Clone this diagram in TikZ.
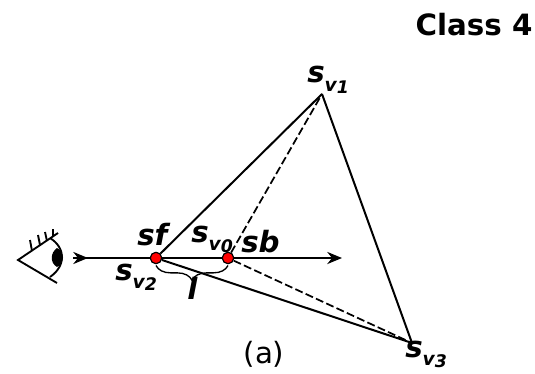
\documentclass[tikz,border=0pt]{standalone}
\usepackage{fontspec}
\setmainfont{DejaVu Sans}
\usetikzlibrary{arrows.meta,decorations.pathreplacing}
\tikzset{
  edgeline/.style ={line width=1.5pt, black},
  hiddenline/.style={line width=1.3pt, black, dash pattern=on 6pt off 2.5pt},
  viewray/.style  ={line width=1.8pt, -{Stealth[length=11pt,width=9pt,inset=3.5pt]}},
  hit/.style      ={circle, draw=black, fill=red, line width=0.8pt, inner sep=0pt, minimum size=8.5pt},
  lab/.style      ={font=\fontsize{22}{24}\selectfont\bfseries\itshape, inner sep=0pt, anchor=base west},
  head/.style     ={font=\fontsize{22}{24}\selectfont\bfseries, inner sep=0pt},
  capt/.style     ={font=\fontsize{22}{24}\selectfont, inner sep=0pt},
  lid/.style      ={line width=1.4pt},
}
\newcommand{\vsub}[1]{s\raisebox{-0.3em}{\fontsize{14}{14}\selectfont v\raisebox{-0.1em}{\fontsize{13}{13}\selectfont #1}}}
\begin{document}
\begin{tikzpicture}[x=0.75pt,y=-0.75pt]
  \useasboundingbox (0,0) rectangle (535,374);

  \node[head](title) at (474,25){Class 4};
  \node[capt](sub) at (264,354){(a)};

  % tetrahedron
  \coordinate (v1) at (322,94);
  \coordinate (v3) at (412,343);
  \node[hit](sf) at (156,258){};
  \node[hit](sb) at (228,258){};

  % eye
  \coordinate (eyeA) at (18,260);
  \coordinate (eyeB) at (58,233);
  \coordinate (eyeC) at (57,283);
  \coordinate (rayin) at (73,258);
  \coordinate (raytip) at (88,258);
  \coordinate (rayout) at (342,258);

  \draw[viewray](rayin)--(rayout);
  \draw[viewray](rayin)--(raytip);
  \draw[edgeline](sf)--(v1);
  \draw[edgeline](sf)--(v3);
  \draw[edgeline](v1)--(v3);
  \draw[hiddenline](sb)--(v1);
  \draw[hiddenline](sb)--(v3);
  \node[hit] at (sf){};
  \node[hit] at (sb){};

  \draw[lid](eyeB)--(eyeA)--(eyeC);
  \draw[lid](50,238) .. controls (66,248) and (66,266) .. (50,277);
  \fill (57,248) .. controls (65,252) and (65,263) .. (57,267)
        .. controls (50,263) and (50,253) .. (57,248) -- cycle;
  \draw[lid](32,251)--(30,240);
  \draw[lid](40,245)--(38,235);
  \draw[lid](47,241)--(45,232);
  \draw[lid](53,237)--(53,229);

  \draw[line width=1pt, decorate, decoration={brace,mirror,amplitude=11pt,raise=0pt}]
    ([yshift=-1pt]sf.south)--([yshift=-1pt]sb.south);

  \node[lab](sflab) at (137,245){sf};
  \node[lab](sblab) at (241,252){sb};
  \node[lab](llab) at (187,299){l};
  \node[lab](v0lab) at (191,242){\vsub{0}};
  \node[lab](v2lab) at (115,280){\vsub{2}};
  \node[lab](v1lab) at (307,83){\vsub{1}};
  \node[lab](v3lab) at (405,357){\vsub{3}};
\end{tikzpicture}
\end{document}
